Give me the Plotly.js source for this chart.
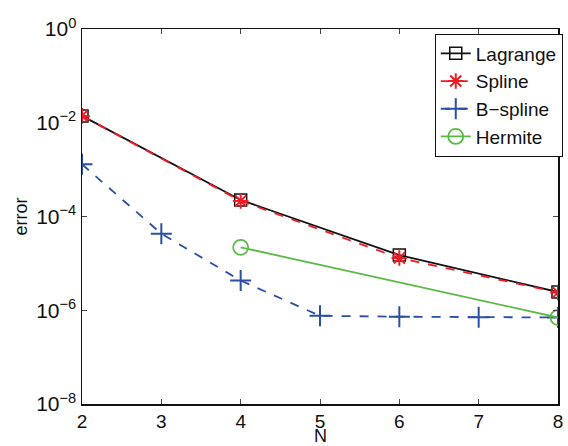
<!DOCTYPE html>
<html><head><meta charset="utf-8">
<script src="https://cdn.plot.ly/plotly-3.0.1.min.js"></script>
<style>html,body{margin:0;padding:0;background:#fff}</style>
</head><body>
<div id="chart" style="width:568px;height:446px"></div>
<script>
const nEven = [2, 4, 6, 8];
const nAll = [2, 3, 4, 5, 6, 7, 8];
const nHermite = [4, 8];
const lagrange = [1.4e-2, 2.25e-4, 1.5e-5, 2.45e-6];
const spline = [1.4e-2, 2.15e-4, 1.3e-5, 2.4e-6];
const bspline = [1.3e-3, 4.3e-5, 4.3e-6, 7.6e-7, 7.3e-7, 7.1e-7, 7.0e-7];
const hermite = [2.2e-5, 7.0e-7];
const yTickVals = [1e-8, 1e-6, 1e-4, 1e-2, 1];
const yTickText = ['10<sup>−8</sup>', '10<sup>−6</sup>', '10<sup>−4</sup>', '10<sup>−2</sup>', '10<sup>0</sup>'];
const xTickVals = [2, 3, 4, 5, 6, 7, 8];
const xTitle = 'N';
const yTitle = 'error';

const traces = [
  {x: nEven, y: lagrange, name: 'Lagrange', mode: 'lines+markers',
   line: {color: '#111', width: 1.8},
   marker: {symbol: 'square-open', size: 12, color: '#111', line: {width: 1.5}}},
  {x: nEven, y: spline, name: 'Spline', mode: 'lines+markers',
   line: {color: '#ee1c24', width: 1.8, dash: 'dash'},
   marker: {symbol: 'asterisk-open', size: 13, color: '#ee1c24', line: {width: 2, color: '#ee1c24'}}},
  {x: nAll, y: bspline, name: 'B\u2212spline', mode: 'lines+markers',
   line: {color: '#2b4fa4', width: 1.8, dash: 'dash'},
   marker: {symbol: 'cross-thin-open', size: 15, color: '#2b4fa4', line: {width: 2, color: '#2b4fa4'}}},
  {x: nHermite, y: hermite, name: 'Hermite', mode: 'lines+markers',
   line: {color: '#5cb946', width: 1.8},
   marker: {symbol: 'circle-open', size: 15, color: '#5cb946', line: {width: 1.8}}}
];

const layout = {
  width: 568, height: 446,
  margin: {l: 82, r: 10, t: 29, b: 42, autoexpand: false},
  paper_bgcolor: '#fff', plot_bgcolor: '#fff',
  font: {family: 'Liberation Sans, Arial, sans-serif', size: 18, color: '#111'},
  showlegend: true,
  legend: {x: 1.01, y: 0.988, xanchor: 'right', yanchor: 'top',
    bordercolor: '#111', borderwidth: 1, bgcolor: '#fff',
    font: {size: 19}, tracegroupgap: 0, itemwidth: 30},
  xaxis: {range: [2, 8], tickvals: xTickVals, ticks: 'inside', ticklen: 5,
    tickfont: {size: 19}, automargin: false,
    showline: true, linecolor: '#111', linewidth: 1.5, mirror: 'ticks',
    showgrid: false, zeroline: false},
  yaxis: {type: 'log', range: [-8, 0], tickvals: yTickVals, ticktext: yTickText,
    tickfont: {size: 21}, automargin: false,
    ticks: 'inside', ticklen: 5, showline: true, linecolor: '#111', linewidth: 1.5,
    mirror: 'ticks', showgrid: false, zeroline: false,
    title: {text: yTitle, standoff: 4, font: {size: 18}}},
  annotations: [{text: xTitle, xref: 'paper', yref: 'paper', x: 0.5, y: 0,
    xanchor: 'center', yanchor: 'top', yshift: -20, showarrow: false,
    font: {size: 18}}]
};

Plotly.newPlot('chart', traces, layout, {displayModeBar: false, staticPlot: true});
</script>
</body></html>
